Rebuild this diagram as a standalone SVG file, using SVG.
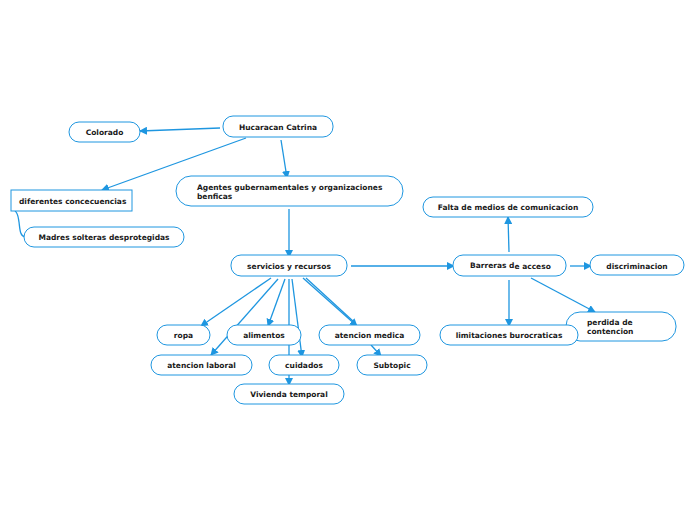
<svg xmlns="http://www.w3.org/2000/svg" width="696" height="520" viewBox="0 0 696 520">
<style>
.n rect{fill:#fff;stroke:#1e96e0;stroke-width:1}
.n text{font-family:"DejaVu Sans",Verdana,sans-serif;font-weight:bold;font-size:7.5px;fill:#1a1a1a}
.c path,.c line{stroke:#1e96e0;stroke-width:1.3;fill:none}
.a{marker-end:url(#ah)}
</style>
<defs>
<marker id="ah" markerWidth="8" markerHeight="8" refX="7" refY="4" orient="auto" markerUnits="userSpaceOnUse">
<path d="M0,0 L8,4 L0,8 Z" fill="#1e96e0"/>
</marker>
</defs>
<rect width="696" height="520" fill="#fff"/>
<g class="c">
<line class="a" x1="220" y1="128" x2="140" y2="131"/>
<line class="a" x1="246" y1="138" x2="102" y2="190"/>
<line class="a" x1="281" y1="140" x2="287" y2="178"/>
<line class="a" x1="289" y1="209" x2="289" y2="257"/>
<line class="a" x1="351" y1="266" x2="454" y2="266"/>
<line class="a" x1="509" y1="252" x2="508" y2="217"/>
<line class="a" x1="570" y1="266" x2="591" y2="266"/>
<line class="a" x1="531" y1="278" x2="595" y2="312"/>
<line class="a" x1="509" y1="280" x2="509" y2="326"/>
<path d="M15,211 C18,213 18,216 19,222 C20,230 20,236 25,237"/>
<line class="a" x1="271" y1="278" x2="201" y2="326"/>
<line class="a" x1="278" y1="279" x2="211" y2="355"/>
<line class="a" x1="285" y1="279" x2="268" y2="326"/>
<line class="a" x1="289" y1="279" x2="289" y2="385"/>
<line class="a" x1="292" y1="279" x2="302" y2="357"/>
<line class="a" x1="303" y1="278" x2="357" y2="326"/>
<line x1="306" y1="278" x2="354" y2="322"/>
<line class="a" x1="371" y1="345" x2="381" y2="356"/>
</g>
<g class="n" id="hucaracan"><rect x="223" y="116" width="110" height="21" rx="10"/><text x="278" y="129.5" text-anchor="middle">Hucaracan Catrina</text></g>
<g class="n" id="colorado"><rect x="69" y="122" width="71" height="20" rx="10"/><text x="104.5" y="135" text-anchor="middle">Colorado</text></g>
<g class="n" id="diferentes"><rect x="11" y="190" width="121" height="21" rx="0"/><text x="19" y="203.5">diferentes concecuencias</text></g>
<g class="n" id="madres"><rect x="24" y="227" width="160" height="20" rx="10"/><text x="104" y="240" text-anchor="middle">Madres solteras desprotegidas</text></g>
<g class="n" id="agentes"><rect x="176" y="176" width="227" height="30" rx="15"/><text x="197" y="190">Agentes gubernamentales y organizaciones</text><text x="197" y="199">benficas</text></g>
<g class="n" id="servicios"><rect x="231" y="255" width="116" height="21" rx="10"/><text x="289" y="268.5" text-anchor="middle">servicios y recursos</text></g>
<g class="n" id="barreras"><rect x="453" y="255" width="113" height="21" rx="10"/><text x="470" y="268">Barreras d<tspan dy="1">e acceso</tspan></text></g>
<g class="n" id="falta"><rect x="423" y="197" width="170" height="20" rx="10"/><text x="508" y="210" text-anchor="middle">Falta de medios de comunicacion</text></g>
<g class="n" id="discriminacion"><rect x="590" y="255" width="94" height="20" rx="10"/><text x="637" y="268.5" text-anchor="middle">discriminacion</text></g>
<g class="n" id="perdida"><rect x="566" y="312" width="110" height="29" rx="14"/><text x="587" y="325">perdida de</text><text x="587" y="334">contencion</text></g>
<g class="n" id="limitaciones"><rect x="440" y="325" width="138" height="20" rx="10"/><text x="509" y="338" text-anchor="middle">limitaciones burocraticas</text></g>
<g class="n" id="ropa"><rect x="157" y="325" width="53" height="20" rx="10"/><text x="183.5" y="338" text-anchor="middle">ropa</text></g>
<g class="n" id="alimentos"><rect x="227" y="325" width="74" height="20" rx="10"/><text x="264" y="338" text-anchor="middle">alimentos</text></g>
<g class="n" id="atencionmedica"><rect x="319" y="325" width="101" height="20" rx="10"/><text x="369.5" y="338" text-anchor="middle">atencion medica</text></g>
<g class="n" id="atencionlaboral"><rect x="151" y="355" width="101" height="20" rx="10"/><text x="201.5" y="368" text-anchor="middle">atencion laboral</text></g>
<g class="n" id="cuidados"><rect x="269" y="355" width="70" height="20" rx="10"/><text x="304" y="368" text-anchor="middle">cuidados</text></g>
<g class="n" id="subtopic"><rect x="357" y="355" width="70" height="20" rx="10"/><text x="392" y="368" text-anchor="middle">Subtopic</text></g>
<g class="n" id="vivienda"><rect x="234" y="384" width="110" height="20" rx="10"/><text x="289" y="397" text-anchor="middle">Vivienda temporal</text></g>
</svg>
